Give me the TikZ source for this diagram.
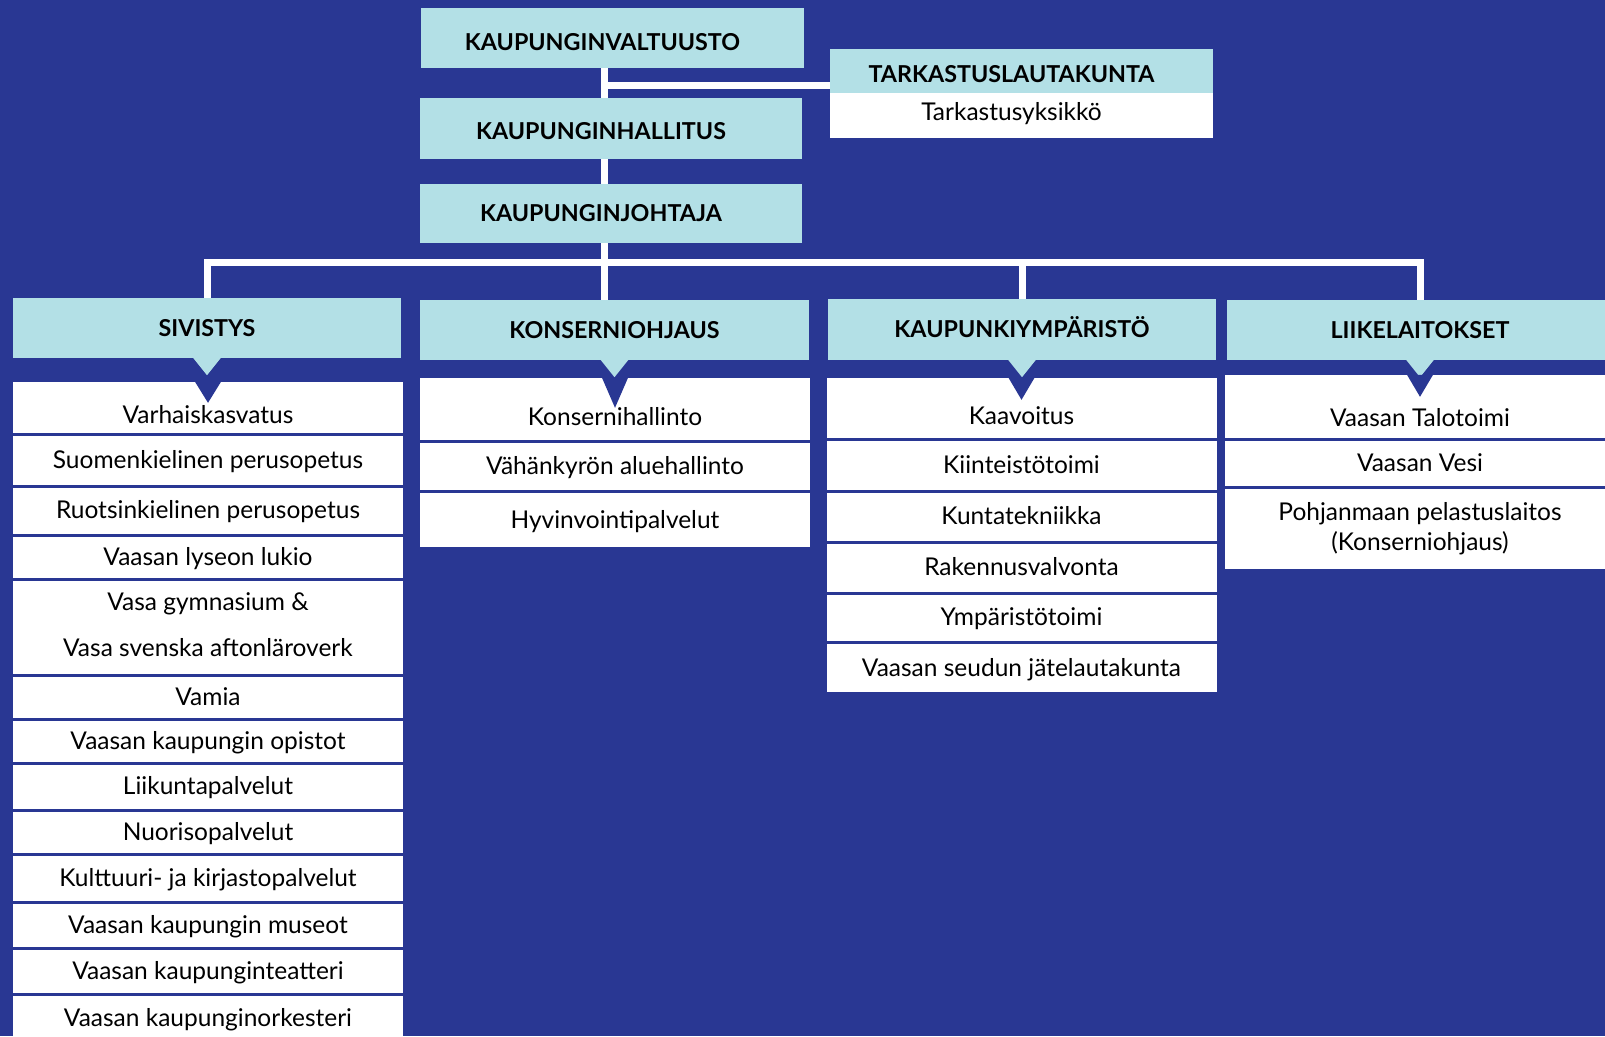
\documentclass[tikz,border=0pt]{standalone}
\usepackage{fontspec}
\setmainfont{Lato}
\usetikzlibrary{positioning,calc}
\definecolor{vblue}{RGB}{41,55,147}
\definecolor{vcyan}{RGB}{179,224,230}
\newcommand\rowstrut{\rule[-5pt]{0pt}{26.5pt}}
\newcommand\topstrut{\rule[-5pt]{0pt}{42.5pt}}
\newcommand\deepstrut{\rule[-5pt]{0pt}{50pt}}

\begin{document}
\begin{tikzpicture}[x=1pt,y=-1pt,
    head/.style={rectangle,fill=vcyan,inner sep=0pt,text height=16.7pt,text depth=0pt,
                 font=\fontsize{23.3}{27}\selectfont\bfseries},
    row/.style={rectangle,fill=white,inner sep=0pt,align=center,minimum width=390,
                font=\fontsize{24.5}{28}\selectfont,execute at begin node=\rowstrut},
    toprow/.style={execute at begin node=\topstrut},
    deeprow/.style={execute at begin node=\deepstrut},
    midrow/.style={},
    lefttext/.style={execute at begin node=\hspace*{-20pt}},
    conn/.style={draw=white,line width=7pt},
    cyanptr/.style={fill=vcyan},
    blueptr/.style={fill=vblue}]
    \fill[vblue] (0,0) rectangle (1605,1036);
    \useasboundingbox (0,0) rectangle (1605,1036);

    \node[head,lefttext,text height=24.7pt,minimum width=383,minimum height=60] (valt) at (612.5,38) {KAUPUNGINVALTUUSTO};
    \node[head,lefttext,text height=22.7pt,minimum width=383,minimum height=44] (tark) at (1021.5,71) {TARKASTUSLAUTAKUNTA};
    \node[row,lefttext,text depth=13pt,minimum width=383,minimum height=45,below=0pt of tark] (tarkyks) {Tarkastusyksikkö};
    \node[head,lefttext,text height=22.7pt,minimum width=382,minimum height=61] (hall) at (611,128.5) {KAUPUNGINHALLITUS};
    \node[head,lefttext,minimum width=382,minimum height=59] (johto) at (611,213.5) {KAUPUNGINJOHTAJA};

    \node[head,minimum width=388,minimum height=60] (siv) at (207,328) {SIVISTYS};
    \node[head,minimum width=389,minimum height=60] (kons) at (614.5,330) {KONSERNIOHJAUS};
    \node[head,minimum width=388,minimum height=61] (kaup) at (1022,329.5) {KAUPUNKIYMPÄRISTÖ};
    \node[head,minimum width=386,minimum height=60] (liike) at (1420,330) {LIIKELAITOKSET};

    \coordinate (trunk) at (604,85.5);
    \coordinate (bus) at (604,262);
    \draw[conn] (valt.south -| trunk) -- (hall.north -| trunk);
    \draw[conn] (trunk) -- (trunk -| tark.west);
    \draw[conn] (hall.south -| trunk) -- (johto.north -| trunk);
    \draw[conn] (johto.south -| trunk) -- (kons.north -| trunk);
    \draw[conn] (siv.north) |- (bus) -| (liike.north);
    \draw[conn] (kaup.north) -- (kaup.north |- bus);

    \foreach \h in {siv,kons,kaup,liike}
        \fill[cyanptr] ($(\h.south)+(-14,-0.5)$) -- ($(\h.south)+(14,-0.5)$) -- ($(\h.south)+(0,17)$) -- cycle;

    \foreach \ya/\yb/\sty/\txt [count=\i] in {382/432.5/toprow/Varhaiskasvatus,
            435.5/484.5/midrow/Suomenkielinen perusopetus,
            487.5/533.5/midrow/Ruotsinkielinen perusopetus,
            536.5/577.5/midrow/Vaasan lyseon lukio,
            580.5/673.5/midrow/Vasa gymnasium \&\\[17.5pt]\rowstrut Vasa svenska aftonläroverk,
            676.5/717.5/midrow/Vamia,
            720.5/761.5/midrow/Vaasan kaupungin opistot,
            764.5/808.5/midrow/Liikuntapalvelut,
            811.5/852.5/midrow/Nuorisopalvelut,
            855.5/900.5/midrow/Kulttuuri- ja kirjastopalvelut,
            903.5/946.5/midrow/Vaasan kaupungin museot,
            949.5/992.5/midrow/Vaasan kaupunginteatteri,
            995.5/1040/midrow/Vaasan kaupunginorkesteri}
        \node[row,\sty,minimum height=\yb-\ya] (siv\i) at (208,{(\ya+\yb)/2}) {\txt};

    \foreach \ya/\yb/\sty/\txt [count=\i] in {378/439.5/toprow/Konsernihallinto,
            442.5/489.5/midrow/Vähänkyrön aluehallinto,
            492.5/547/midrow/Hyvinvointipalvelut}
        \node[row,\sty,minimum height=\yb-\ya] (kons\i) at (615,{(\ya+\yb)/2}) {\txt};

    \foreach \ya/\yb/\sty/\txt [count=\i] in {378/437.5/toprow/Kaavoitus,
            440.5/489.5/midrow/Kiinteistötoimi,
            492.5/540.5/midrow/Kuntatekniikka,
            543.5/591.5/midrow/Rakennusvalvonta,
            594.5/640.5/midrow/Ympäristötoimi,
            643.5/692/midrow/Vaasan seudun jätelautakunta}
        \node[row,\sty,minimum height=\yb-\ya] (kaup\i) at (1021.5,{(\ya+\yb)/2}) {\txt};

    \foreach \ya/\yb/\sty/\txt [count=\i] in {375/437.5/deeprow/Vaasan Talotoimi,
            440.5/485.5/midrow/Vaasan Vesi,
            488.5/569/midrow/Pohjanmaan pelastuslaitos\\[1.5pt]\rowstrut(Konserniohjaus)}
        \node[row,\sty,minimum height=\yb-\ya] (liike\i) at (1420,{(\ya+\yb)/2}) {\txt};

    \foreach \r/\d in {siv1/21,kons1/30,kaup1/22,liike1/22}
        \fill[blueptr] ($(\r.north)+(-13,0)$) -- ($(\r.north)+(13,0)$) -- ($(\r.north)+(0,\d)$) -- cycle;
\end{tikzpicture}
\end{document}
